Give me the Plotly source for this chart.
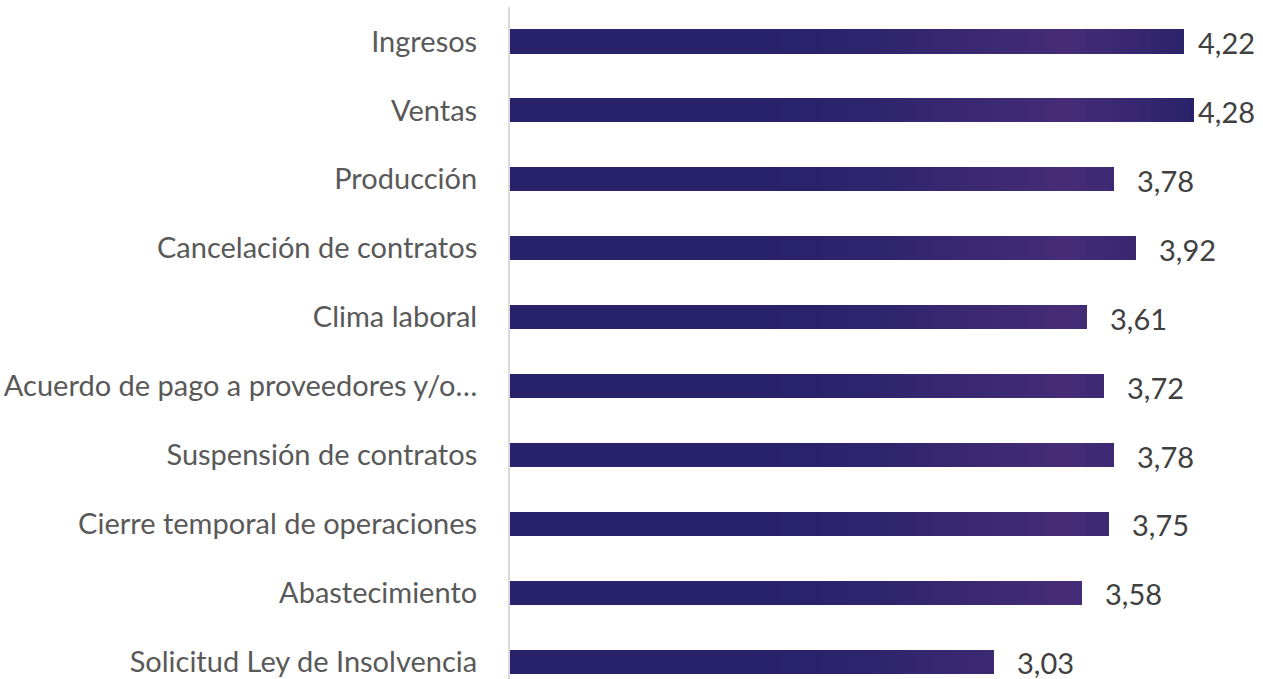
import plotly.graph_objects as go
import numpy as np

categories = [
    "Ingresos",
    "Ventas",
    "Producción",
    "Cancelación de contratos",
    "Clima laboral",
    "Acuerdo de pago a proveedores y/o…",
    "Suspensión de contratos",
    "Cierre temporal de operaciones",
    "Abastecimiento",
    "Solicitud Ley de Insolvencia",
]
values = [4.22, 4.28, 3.78, 3.92, 3.61, 3.72, 3.78, 3.75, 3.58, 3.03]
value_labels = ["4,22", "4,28", "3,78", "3,92", "3,61", "3,72", "3,78", "3,75", "3,58", "3,03"]

# gradient stops along the value axis (absolute, shared by all bars)
grad_pos = [0.0, 1.5, 2.2, 3.5, 4.3]
dark = np.array([40, 34, 106])
purple = np.array([70, 44, 118])
grad_col = [dark, dark, np.array([44, 36, 108]), purple, dark]

def color_at(v):
    if v <= grad_pos[0]:
        c = grad_col[0]
    elif v >= grad_pos[-1]:
        c = grad_col[-1]
    else:
        for i in range(len(grad_pos) - 1):
            if grad_pos[i] <= v <= grad_pos[i + 1]:
                t = (v - grad_pos[i]) / (grad_pos[i + 1] - grad_pos[i])
                c = grad_col[i] * (1 - t) + grad_col[i + 1] * t
                break
    c = np.round(c).astype(int)
    return f"rgb({c[0]},{c[1]},{c[2]})"

XMAX = 4.712
PLOT_W = 753
px_per_unit = PLOT_W / XMAX

fig = go.Figure()
step = 0.05
edges = np.arange(0, max(values) + step, step)
for b0, b1 in zip(edges[:-1], edges[1:]):
    seg = [max(0.0, min(v, b1) - b0) for v in values]
    fig.add_trace(go.Bar(
        y=categories, x=seg, orientation="h",
        marker=dict(color=color_at((b0 + b1) / 2), line=dict(width=0)),
        width=0.35, hoverinfo="skip", showlegend=False,
    ))

annotations = []
for cat, v, lab in zip(categories, values, value_labels):
    bar_px = v * px_per_unit
    shift = min(22, PLOT_W - 5 - 61 - bar_px)
    annotations.append(dict(
        x=v, y=cat, xref="x", yref="y", text=lab, showarrow=False,
        xanchor="left", yanchor="middle", xshift=shift, yshift=-1,
        borderpad=0,
        font=dict(family="Lato", size=29, color="#404040"),
    ))

fig.update_layout(
    barmode="stack",
    bargap=0,
    width=1263, height=679,
    margin=dict(l=510, r=0, t=7, b=0),
    paper_bgcolor="white", plot_bgcolor="white",
    annotations=annotations,
    xaxis=dict(range=[0, XMAX], showgrid=False, zeroline=False,
               showticklabels=False, showline=False, fixedrange=True),
    yaxis=dict(categoryorder="array", categoryarray=categories,
               range=[9.25, -0.5], showgrid=False, zeroline=False,
               showline=True, linecolor="#d9d9d9", linewidth=2,
               ticks="", ticklabelstandoff=25, automargin=False,
               tickfont=dict(family="Lato", size=29, color="#595959")),
)

fig.write_html("out.html", config={"displayModeBar": False},
               post_script="document.body.style.margin='0';")
